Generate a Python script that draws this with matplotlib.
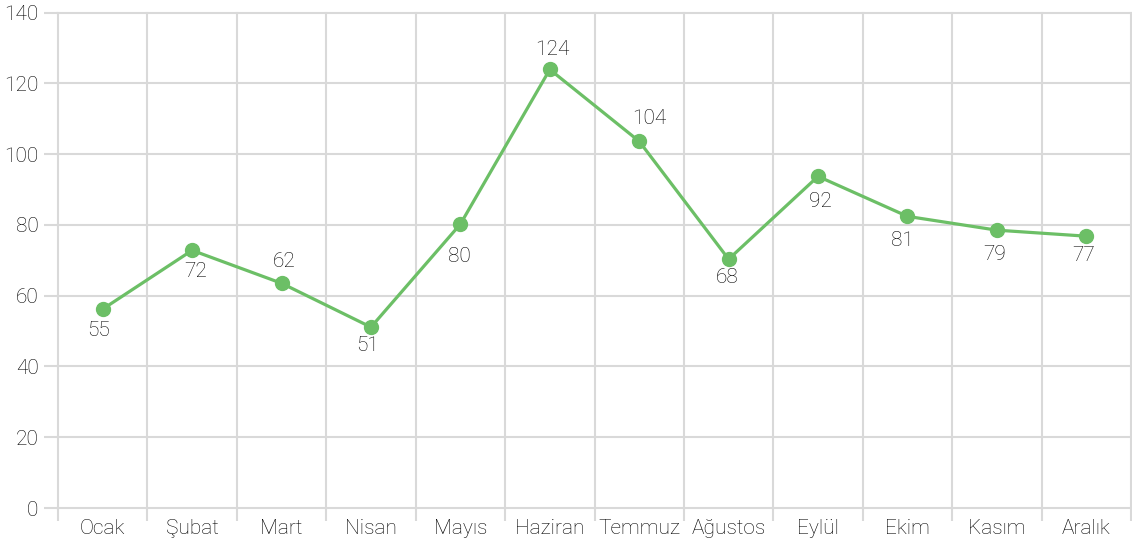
import matplotlib
matplotlib.use("Agg")
import matplotlib.pyplot as plt
import numpy as np

months = ["Ocak", "Şubat", "Mart", "Nisan", "Mayıs", "Haziran", "Temmuz",
          "Ağustos", "Eylül", "Ekim", "Kasım", "Aralık"]
values = [56.2, 72.8, 63.5, 51.1, 80.2, 123.9, 103.6, 70.3, 93.7, 82.4, 78.5, 76.8]
value_labels = ["55", "72", "62", "51", "80", "124", "104", "68", "92", "81", "79", "77"]
y_ticks = [0, 20, 40, 60, 80, 100, 120, 140]

# label placement offsets in pixels (dx right, dy up) -- layout only
label_dx = [-4, 4, 3, -3, -1, 3, 10, -1, 2, -5, -2, -3]
label_dy = [-21, -21, 22, -18, -32, 20, 23, -18, -25, -24, -24, -19]

plt.rcParams['font.family'] = ['Roboto', 'DejaVu Sans']
plt.rcParams['font.weight'] = 'light'
W, H = 1132, 545
fig = plt.figure(figsize=(W/100, H/100), dpi=100)
ax = fig.add_axes([58/W, (H-508)/H, (1131-58)/W, (508-12.5)/H])

grid_c = "#d9d9d9"
text_c = "#000000"
green = "#6cbf66"

x = np.arange(len(months)) + 0.5
ax.set_xlim(0, len(months))
ax.set_ylim(0, 140)

for s in ax.spines.values():
    s.set_visible(False)

ax.set_yticks(y_ticks)
ax.set_yticklabels([str(v) for v in y_ticks])
ax.set_xticks(x)
ax.set_xticklabels(months)
ax.set_xticks(np.arange(len(months) + 1), minor=True)

ax.tick_params(axis='x', which='major', length=0, pad=8, labelsize=15, labelcolor=text_c)
ax.tick_params(axis='x', which='minor', length=9, width=1.5, color=grid_c)
ax.tick_params(axis='y', which='major', length=10, width=1.5, color=grid_c, pad=4,
               labelsize=15, labelcolor=text_c)

for yv in y_ticks:
    ax.axhline(yv, color=grid_c, lw=1.5, zorder=0, clip_on=False)
for xv in range(len(months) + 1):
    ax.axvline(xv, color=grid_c, lw=1.5, zorder=0, clip_on=False)

ax.plot(x, values, color=green, lw=2.3, marker='o', markersize=10, zorder=3, clip_on=False)

for xi, v, lab, dx, dy in zip(x, values, value_labels, label_dx, label_dy):
    ax.annotate(lab, (xi, v), xytext=(dx, dy), textcoords='offset pixels',
                ha='center', va='center', fontsize=15, color=text_c)

fig.savefig("out.png", dpi=100)
